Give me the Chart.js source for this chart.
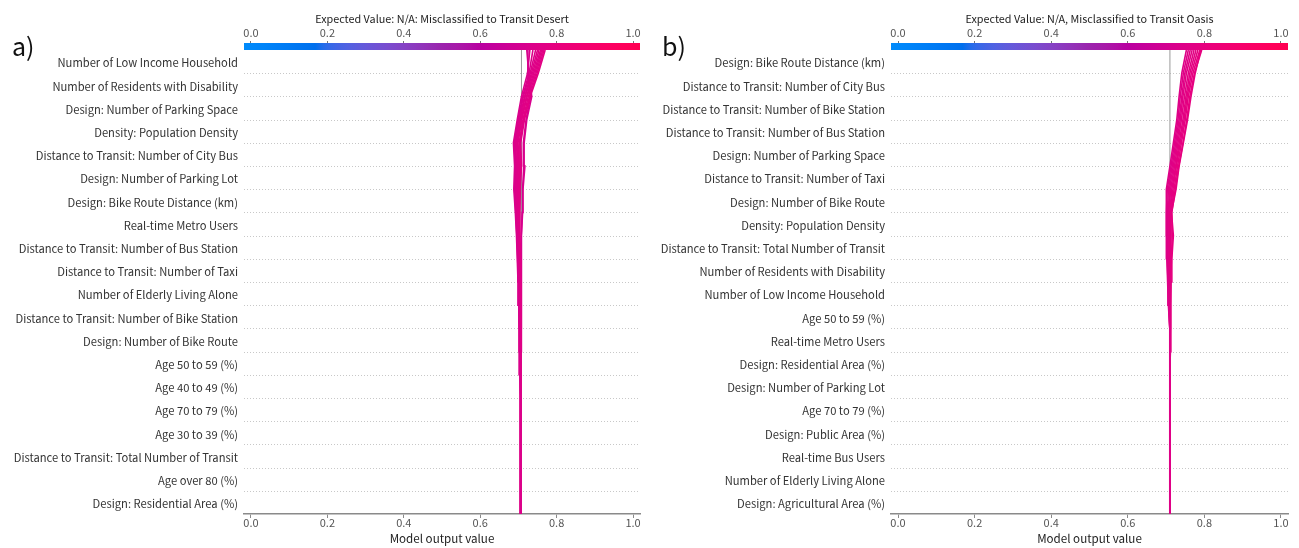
<!DOCTYPE html>
<html>
<head>
<meta charset="utf-8">
<script src="https://cdn.jsdelivr.net/npm/chart.js@4.4.1/dist/chart.umd.min.js"></script>
<style>
  html, body { margin: 0; padding: 0; background: #fff; }
  #wrap { position: relative; width: 1299px; height: 548px; overflow: hidden; }
  #ca { position: absolute; left: 0; top: 0; }
  #cb { position: absolute; left: 650px; top: 0; }
</style>
</head>
<body>
<div id="wrap">
  <canvas id="ca" width="650" height="548"></canvas>
  <canvas id="cb" width="649" height="548"></canvas>
</div>
<script>
// Feature order, listed top to bottom as displayed
const featuresA = [
  'Number of Low Income Household',
  'Number of Residents with Disability',
  'Design: Number of Parking Space',
  'Density: Population Density',
  'Distance to Transit: Number of City Bus',
  'Design: Number of Parking Lot',
  'Design: Bike Route Distance (km)',
  'Real-time Metro Users',
  'Distance to Transit: Number of Bus Station',
  'Distance to Transit: Number of Taxi',
  'Number of Elderly Living Alone',
  'Distance to Transit: Number of Bike Station',
  'Design: Number of Bike Route',
  'Age 50 to 59 (%)',
  'Age 40 to 49 (%)',
  'Age 70 to 79 (%)',
  'Age 30 to 39 (%)',
  'Distance to Transit: Total Number of Transit',
  'Age over 80 (%)',
  'Design: Residential Area (%)'
];
const featuresB = [
  'Design: Bike Route Distance (km)',
  'Distance to Transit: Number of City Bus',
  'Distance to Transit: Number of Bike Station',
  'Distance to Transit: Number of Bus Station',
  'Design: Number of Parking Space',
  'Distance to Transit: Number of Taxi',
  'Design: Number of Bike Route',
  'Density: Population Density',
  'Distance to Transit: Total Number of Transit',
  'Number of Residents with Disability',
  'Number of Low Income Household',
  'Age 50 to 59 (%)',
  'Real-time Metro Users',
  'Design: Residential Area (%)',
  'Design: Number of Parking Lot',
  'Age 70 to 79 (%)',
  'Design: Public Area (%)',
  'Real-time Bus Users',
  'Number of Elderly Living Alone',
  'Design: Agricultural Area (%)'
];

const tickValues = [0.0, 0.2, 0.4, 0.6, 0.8, 1.0];
const tickLabels = ['0.0', '0.2', '0.4', '0.6', '0.8', '1.0'];

const titleA = 'Expected Value: N/A: Misclassified to Transit Desert';
const titleB = 'Expected Value: N/A, Misclassified to Transit Oasis';
const xTitle = 'Model output value';

const baseA = 0.708;
const baseB = 0.710;

// Cumulative model output per observation, from the base value (bottom)
// through each feature boundary up to the final prediction (top)
const pathsA = [
  [0.706,0.706,0.706,0.706,0.706,0.705,0.704,0.703,0.702,0.701,0.699,0.697,0.695,0.692,0.688,0.690,0.687,0.697,0.708,0.724,0.730],
  [0.706,0.706,0.706,0.706,0.706,0.705,0.704,0.703,0.702,0.701,0.700,0.698,0.696,0.693,0.690,0.692,0.689,0.699,0.711,0.728,0.738],
  [0.706,0.706,0.706,0.706,0.706,0.706,0.705,0.704,0.703,0.702,0.701,0.699,0.697,0.695,0.692,0.694,0.691,0.701,0.713,0.731,0.745],
  [0.706,0.706,0.706,0.706,0.706,0.706,0.705,0.704,0.703,0.702,0.701,0.700,0.698,0.696,0.694,0.696,0.693,0.703,0.716,0.734,0.750],
  [0.706,0.706,0.706,0.706,0.706,0.706,0.705,0.705,0.704,0.703,0.702,0.701,0.699,0.697,0.695,0.698,0.695,0.705,0.718,0.737,0.754],
  [0.706,0.706,0.706,0.706,0.706,0.706,0.706,0.705,0.704,0.704,0.703,0.702,0.700,0.699,0.697,0.700,0.697,0.707,0.721,0.740,0.758],
  [0.706,0.706,0.706,0.706,0.706,0.706,0.706,0.705,0.705,0.704,0.703,0.702,0.701,0.700,0.699,0.702,0.699,0.709,0.723,0.743,0.761],
  [0.706,0.706,0.706,0.706,0.706,0.706,0.706,0.706,0.705,0.705,0.704,0.703,0.702,0.701,0.701,0.704,0.702,0.712,0.726,0.746,0.764],
  [0.706,0.706,0.706,0.706,0.706,0.706,0.706,0.706,0.705,0.705,0.705,0.704,0.703,0.703,0.703,0.706,0.704,0.714,0.729,0.749,0.767],
  [0.706,0.706,0.706,0.706,0.706,0.706,0.706,0.706,0.706,0.706,0.705,0.705,0.704,0.704,0.705,0.708,0.706,0.716,0.731,0.752,0.770],
  [0.706,0.706,0.706,0.706,0.706,0.706,0.706,0.707,0.707,0.707,0.708,0.708,0.709,0.711,0.712,0.717,0.715,0.722,0.735,0.727,0.722],
  [0.706,0.706,0.706,0.706,0.706,0.706,0.706,0.706,0.707,0.707,0.707,0.708,0.708,0.710,0.711,0.714,0.713,0.720,0.732,0.724,0.725]
];
const pathsB = [
  [0.710,0.710,0.710,0.710,0.710,0.710,0.710,0.709,0.708,0.706,0.704,0.702,0.701,0.700,0.701,0.710,0.719,0.728,0.734,0.741,0.753],
  [0.710,0.710,0.710,0.710,0.710,0.710,0.710,0.709,0.708,0.707,0.705,0.703,0.702,0.701,0.703,0.713,0.722,0.731,0.737,0.745,0.758],
  [0.710,0.710,0.710,0.710,0.710,0.710,0.710,0.710,0.709,0.707,0.706,0.704,0.704,0.703,0.706,0.716,0.725,0.734,0.741,0.749,0.763],
  [0.710,0.710,0.710,0.710,0.710,0.710,0.710,0.710,0.709,0.708,0.707,0.706,0.706,0.705,0.709,0.719,0.728,0.737,0.744,0.753,0.768],
  [0.710,0.710,0.710,0.710,0.710,0.710,0.710,0.710,0.710,0.709,0.708,0.707,0.707,0.707,0.712,0.722,0.731,0.740,0.748,0.758,0.773],
  [0.710,0.710,0.710,0.710,0.710,0.710,0.710,0.710,0.710,0.710,0.709,0.709,0.709,0.709,0.715,0.725,0.734,0.744,0.752,0.762,0.778],
  [0.710,0.710,0.710,0.710,0.710,0.710,0.710,0.710,0.710,0.710,0.710,0.710,0.711,0.711,0.718,0.727,0.737,0.747,0.755,0.766,0.783],
  [0.710,0.710,0.710,0.710,0.710,0.710,0.710,0.710,0.711,0.711,0.711,0.712,0.713,0.713,0.721,0.730,0.740,0.750,0.758,0.770,0.788],
  [0.710,0.710,0.710,0.710,0.710,0.710,0.710,0.711,0.711,0.712,0.712,0.714,0.716,0.715,0.724,0.733,0.744,0.754,0.762,0.774,0.793],
  [0.710,0.710,0.710,0.710,0.710,0.710,0.710,0.711,0.712,0.712,0.713,0.715,0.719,0.714,0.726,0.734,0.745,0.756,0.765,0.776,0.790]
];

const axisMin = -0.0183;
const axisMax = 1.0183;
const FONT = '"Noto Sans CJK KR", "Noto Sans", sans-serif';

// Red-blue colormap built in LCH space (blue -> purple -> red)
function lch2rgb(L, C, h) {
  const a = C * Math.cos(h), b = C * Math.sin(h);
  const fy = (L + 16) / 116, fx = fy + a / 500, fz = fy - b / 200;
  const finv = t => (t * t * t > 0.008856 ? t * t * t : (t - 16 / 116) / 7.787);
  const X = 0.95047 * finv(fx), Y = finv(fy), Z = 1.08883 * finv(fz);
  const lin = [
    3.2404542 * X - 1.5371385 * Y - 0.4985314 * Z,
    -0.9692660 * X + 1.8760108 * Y + 0.0415560 * Z,
    0.0556434 * X - 0.2040259 * Y + 1.0572252 * Z
  ];
  return lin.map(c => {
    const v = c <= 0.0031308 ? 12.92 * c : 1.055 * Math.pow(Math.max(c, 0), 1 / 2.4) - 0.055;
    return Math.round(Math.min(1, Math.max(0, v)) * 255);
  });
}
const cmapTable = (() => {
  const n = 100, out = [];
  const h0 = 4.6588, h1 = 0.35470565 + 2 * Math.PI;
  for (let i = 0; i < n; i++) {
    const t = i / (n - 1);
    const L = i < n / 2 ? 54 + (40 - 54) * (i / (n / 2 - 1)) : 40 + (54 - 40) * ((i - n / 2) / (n / 2 - 1));
    const C = 70 + (90 - 70) * t;
    const h = h0 + (h1 - h0) * t;
    out.push(lch2rgb(L, C, h));
  }
  return out;
})();
function cmap(t) {
  t = Math.min(1, Math.max(0, t));
  const p = t * (cmapTable.length - 1);
  const i = Math.floor(p), f = p - i;
  const a = cmapTable[i], b = cmapTable[Math.min(i + 1, cmapTable.length - 1)];
  const c = a.map((v, k) => Math.round(v + (b[k] - v) * f));
  return `rgb(${c[0]},${c[1]},${c[2]})`;
}
const normOut = v => (v - axisMin) / (axisMax - axisMin);

// Dotted row separators, colour bar and panel tag
const decor = {
  id: 'decor',
  beforeDatasetsDraw(chart, args, opts) {
    const { ctx, chartArea: a, scales: { y } } = chart;
    ctx.save();
    ctx.strokeStyle = '#c8c8c8';
    ctx.lineWidth = 1;
    ctx.setLineDash([1, 2]);
    for (let k = 1; k < opts.rows; k++) {
      const py = Math.round(y.getPixelForValue(k)) + 0.5;
      ctx.beginPath();
      ctx.moveTo(a.left, py);
      ctx.lineTo(a.right, py);
      ctx.stroke();
    }
    ctx.restore();
  },
  afterDraw(chart, args, opts) {
    const { ctx, chartArea: a, scales: { xTop } } = chart;
    const x0 = xTop.getPixelForValue(axisMin), x1 = xTop.getPixelForValue(axisMax);
    const g = ctx.createLinearGradient(x0, 0, x1, 0);
    for (let i = 0; i <= 100; i++) g.addColorStop(i / 100, cmap(i / 100));
    ctx.save();
    ctx.fillStyle = g;
    ctx.fillRect(x0, a.top - 7, x1 - x0, 7);
    ctx.fillStyle = '#111';
    ctx.font = '25px ' + FONT;
    ctx.textAlign = 'left';
    ctx.textBaseline = 'middle';
    ctx.fillText(opts.tag, opts.tagX, 46);
    ctx.restore();
  }
};

function makePanel(id, features, paths, base, title, tag, plotLeft, padRight) {
  const rows = features.length;
  const bottomUp = features.slice().reverse();
  const datasets = paths.map(p => ({
    data: p.map((v, k) => ({ x: v, y: k })),
    borderColor: cmap(normOut(p[p.length - 1])),
    borderWidth: 1.6,
    pointRadius: 0,
    showLine: true,
    fill: false,
    tension: 0,
    order: 1
  }));
  datasets.push({
    data: [{ x: base, y: 0 }, { x: base, y: rows }],
    borderColor: '#999999',
    borderWidth: 1,
    pointRadius: 0,
    showLine: true,
    fill: false,
    order: 5
  });

  const setTicks = scale => { scale.ticks = tickValues.map(v => ({ value: v })); };
  const tickText = (v, i) => tickLabels[i];

  new Chart(document.getElementById(id), {
    type: 'scatter',
    data: { datasets },
    options: {
      responsive: false,
      animation: false,
      devicePixelRatio: 1,
      layout: { padding: { left: 0, right: padRight, top: 0, bottom: 0 } },
      plugins: {
        legend: { display: false },
        tooltip: { enabled: false },
        decor: { rows, tag, tagX: 12 }
      },
      scales: {
        x: {
          type: 'linear', position: 'bottom', min: axisMin, max: axisMax,
          afterBuildTicks: setTicks,
          afterFit: s => { s.height = 34; },
          grid: { drawOnChartArea: false, drawTicks: true, tickLength: 4, tickColor: '#8a8a8a', tickWidth: 1 },
          border: { display: true, color: '#8a8a8a', width: 1.6 },
          ticks: { callback: tickText, color: '#555', font: { family: FONT, size: 11, lineHeight: 1 }, padding: -1, maxRotation: 0, autoSkip: false },
          title: { display: true, text: xTitle, color: '#222', font: { family: FONT, size: 11.6 }, padding: { top: 0, bottom: 2 } }
        },
        xTop: {
          type: 'linear', axis: 'x', position: 'top', display: true, min: axisMin, max: axisMax,
          afterBuildTicks: setTicks,
          afterFit: s => { s.height = 50; },
          grid: { drawOnChartArea: false, drawTicks: true, tickLength: 9, tickColor: '#777', tickWidth: 1 },
          border: { display: false },
          ticks: { callback: tickText, color: '#555', font: { family: FONT, size: 11 }, padding: 2, maxRotation: 0, autoSkip: false },
          title: { display: true, text: title, color: '#222', font: { family: FONT, size: 10.8 }, padding: { top: 12, bottom: 0 } }
        },
        y: {
          type: 'linear', min: 0, max: rows,
          afterBuildTicks: s => { s.ticks = bottomUp.map((f, i) => ({ value: i + 0.5 })); },
          afterFit: s => { s.width = plotLeft; },
          grid: { display: false, drawTicks: false },
          border: { display: false },
          ticks: { callback: (v, i) => bottomUp[i], color: '#333', font: { family: FONT, size: 11.2 }, padding: 6, labelOffset: 1.5, autoSkip: false }
        }
      }
    },
    plugins: [decor]
  });
}

makePanel('ca', featuresA, pathsA, baseA, titleA, 'a)', 244, 10);
makePanel('cb', featuresB, pathsB, baseB, titleB, 'b)', 241, 11);
</script>
</body>
</html>
